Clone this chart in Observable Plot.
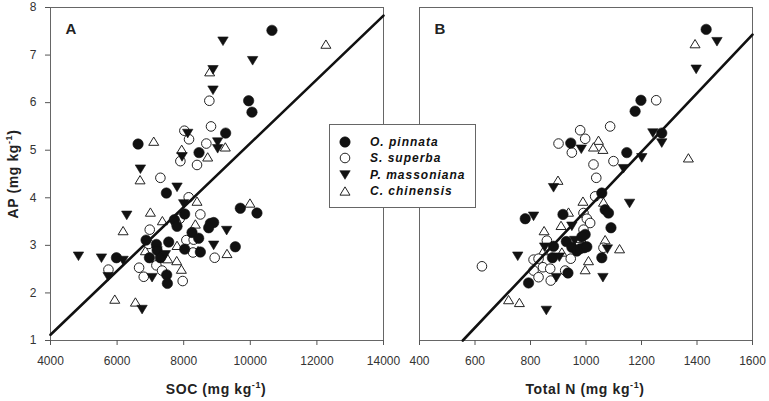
<!DOCTYPE html>
<html>
<head>
<meta charset="utf-8">
<script src="https://cdn.jsdelivr.net/npm/d3@7"></script>
<script src="https://cdn.jsdelivr.net/npm/@observablehq/plot@0.6"></script>
<style>
  body { margin: 0; background: #fff; }
  #wrap { position: relative; width: 769px; height: 401px; font-family: "Liberation Sans", Arial, sans-serif; overflow: hidden; }
  .panel { position: absolute; top: 0; }
  .atitle { position: absolute; font-weight: bold; font-size: 14px; letter-spacing: 0.6px; color: #222; white-space: nowrap; line-height: 1; }
  .atitle sup { font-size: 9px; vertical-align: 6px; line-height: 0; }
  #legend { position: absolute; left: 329px; top: 124px; width: 145px; height: 82px; border: 1px solid #666; background: #fff; }
  .lrow { position: absolute; left: 0; height: 16px; display: flex; align-items: center; }
  .lrow svg { margin-left: 7px; }
  .lrow span { margin-left: 17px; font-weight: bold; font-style: italic; font-size: 12px; letter-spacing: 1px; color: #111; }
</style>
</head>
<body>
<div id="wrap"></div>
<script>
// ---------- data ----------
const species = ["O. pinnata", "S. superba", "P. massoniana", "C. chinensis"];

const socTicks = [4000, 6000, 8000, 10000, 12000, 14000];
const tnTicks = [400, 600, 800, 1000, 1200, 1400, 1600];
const apTicks = [1, 2, 3, 4, 5, 6, 7, 8];

// Panel A: SOC (mg/kg) vs AP (mg/kg)
const socPinnata = [[10650,7.52],[9950,6.04],[10050,5.80],[9260,5.36],[6630,5.13],[8460,4.95],[7480,4.10],[9700,3.78],[10200,3.68],[8030,3.66],[7720,3.54],[7800,3.40],[8800,3.46],[8900,3.48],[8750,3.37],[8250,3.27],[8450,3.15],[6870,3.11],[7180,3.02],[7550,3.07],[7200,2.90],[8030,2.92],[8500,2.86],[9550,2.97],[6970,2.74],[7300,2.74],[5980,2.74],[7490,2.38],[7510,2.20]];
const socSuperba = [[8770,6.04],[8820,5.50],[8020,5.41],[8160,5.23],[8680,5.14],[7900,4.77],[8400,4.69],[7300,4.42],[8150,4.01],[8500,3.65],[7880,3.56],[7770,3.47],[6980,3.33],[8080,3.11],[8300,3.12],[6950,3.03],[8280,2.85],[8930,2.74],[5740,2.49],[6660,2.53],[6800,2.34],[7180,2.58],[7350,2.47],[7970,2.25]];
const socMassoniana = [[9180,7.29],[10070,6.88],[8880,6.69],[8880,6.26],[8120,5.35],[9020,5.17],[9020,5.03],[7950,4.86],[6700,4.60],[7800,4.22],[8000,3.87],[6290,3.63],[9290,3.31],[8900,3.00],[4840,2.77],[5530,2.73],[6180,2.68],[5730,2.34],[7050,2.32],[6750,1.65],[7200,2.88],[7450,2.80]];
const socChinensis = [[12270,7.23],[8780,6.65],[7100,5.19],[7940,5.02],[9250,5.07],[8720,4.86],[6690,4.38],[8400,3.93],[7000,3.70],[9990,3.89],[7360,3.52],[8350,3.45],[6180,3.31],[7800,3.00],[6850,2.89],[8430,2.89],[9300,2.83],[7520,2.72],[7790,2.68],[7930,2.50],[5930,1.87],[6550,1.81]];

// Panel B: Total N (mg/kg) vs AP (mg/kg)
const tnPinnata = [[1433,7.54],[1198,6.05],[1177,5.82],[1273,5.36],[945,5.15],[1147,4.95],[1057,4.10],[1069,3.75],[1081,3.68],[781,3.56],[917,3.65],[1090,3.37],[997,3.23],[985,3.18],[929,3.08],[883,2.98],[949,2.96],[967,2.88],[979,2.93],[993,2.95],[1003,2.97],[879,2.74],[1057,2.74],[935,2.42],[793,2.21]];
const tnSuperba = [[1253,6.05],[1087,5.50],[979,5.42],[997,5.24],[901,5.14],[949,4.95],[1099,4.77],[1027,4.70],[1037,4.42],[1033,4.03],[991,3.68],[1003,3.56],[1015,3.47],[991,3.33],[1063,2.95],[859,3.10],[811,2.70],[829,2.72],[845,2.54],[871,2.51],[811,2.47],[829,2.33],[873,2.26],[925,2.47],[945,2.72],[625,2.56]];
const tnMassoniana = [[1472,7.28],[1397,6.70],[1241,5.36],[1273,5.15],[983,5.02],[1201,4.84],[1135,4.61],[883,4.21],[1157,3.88],[811,3.61],[949,3.40],[959,3.10],[851,2.96],[1077,2.92],[904,2.75],[754,2.77],[893,2.32],[1061,2.32],[857,1.63]];
const tnChinensis = [[1393,7.24],[1369,4.84],[1045,5.21],[1027,5.07],[1061,5.02],[899,4.37],[989,3.93],[1063,3.91],[937,3.70],[910,3.42],[849,3.31],[982,3.15],[1069,3.12],[1121,2.93],[847,2.89],[913,2.86],[1009,2.68],[997,2.49],[721,1.86],[760,1.80]];

// Regression lines (end points)
const fitSoc = [[4000,1.12],[14000,7.83]];
const fitTn = [[556,1.0],[1600,7.43]];

// ---------- styles ----------
const triUp = {draw(ctx, size){ const r = Math.sqrt(size/Math.PI), h = 1.66*r; ctx.moveTo(0,-h/2); ctx.lineTo(r,h/2); ctx.lineTo(-r,h/2); ctx.closePath(); }};
const triDown = {draw(ctx, size){ const r = Math.sqrt(size/Math.PI), h = 1.66*r; ctx.moveTo(0,h/2); ctx.lineTo(r,-h/2); ctx.lineTo(-r,-h/2); ctx.closePath(); }};
const styleOf = {
  "O. pinnata":   {symbol: "circle", r: 5.2, fill: "#111", stroke: "#111", strokeWidth: 0.6},
  "S. superba":   {symbol: "circle", r: 4.8, fill: "#fff", stroke: "#222", strokeWidth: 1},
  "P. massoniana":{symbol: triDown, r: 5.2, fill: "#111", stroke: "#111", strokeWidth: 0.6},
  "C. chinensis": {symbol: triUp, r: 5, fill: "#fff", stroke: "#222", strokeWidth: 1}
};
const drawOrder = ["C. chinensis", "S. superba", "O. pinnata", "P. massoniana"];

function panel({sets, fit, xDomain, xTicks, label, width, marginLeft, showY}) {
  const marks = [
    Plot.frame({stroke: "#666", strokeWidth: 1}),
    Plot.axisX({ticks: xTicks, tickSize: 5, tickPadding: 11, tickFormat: d => String(d), fontSize: 12, stroke: "#555", fill: "#333"}),
  ];
  if (showY) marks.push(Plot.axisY({ticks: apTicks, tickSize: 5, tickPadding: 9, tickFormat: d => String(d), fontSize: 12, stroke: "#555", fill: "#333"}));
  else marks.push(Plot.axisY({ticks: [], label: null}));
  for (const sp of drawOrder) {
    const s = styleOf[sp];
    marks.push(Plot.dot(sets[sp], {x: d => d[0], y: d => d[1], symbol: s.symbol, r: s.r, fill: s.fill, stroke: s.stroke, strokeWidth: s.strokeWidth}));
  }
  marks.push(Plot.line(fit, {x: d => d[0], y: d => d[1], stroke: "#111", strokeWidth: 2.6}));
  marks.push(Plot.text([label], {text: d => d, frameAnchor: "top-left", dx: 15, dy: 22, lineAnchor: "middle", textAnchor: "start", fontSize: 15, fontWeight: "bold", fill: "#222"}));
  return Plot.plot({
    width, height: 401,
    marginLeft, marginRight: 17, marginTop: 7, marginBottom: 61,
    x: {domain: xDomain, label: null},
    y: {domain: [1, 8], label: null},
    style: {background: "transparent", overflow: "visible", fontFamily: "Liberation Sans, Arial, sans-serif"},
    marks
  });
}

const wrap = document.getElementById("wrap");

const pA = panel({
  sets: {"O. pinnata": socPinnata, "S. superba": socSuperba, "P. massoniana": socMassoniana, "C. chinensis": socChinensis},
  fit: fitSoc, xDomain: [4000, 14000], xTicks: socTicks, label: "A", width: 400, marginLeft: 50, showY: true
});
pA.classList.add("panel"); pA.style.left = "0px";
wrap.appendChild(pA);

const pB = panel({
  sets: {"O. pinnata": tnPinnata, "S. superba": tnSuperba, "P. massoniana": tnMassoniana, "C. chinensis": tnChinensis},
  fit: fitTn, xDomain: [400, 1600], xTicks: tnTicks, label: "B", width: 389, marginLeft: 39, showY: false
});
pB.classList.add("panel"); pB.style.left = "380px";
wrap.appendChild(pB);

// Axis titles
function title(html, css) {
  const d = document.createElement("div");
  d.className = "atitle";
  d.innerHTML = html;
  Object.assign(d.style, css);
  wrap.appendChild(d);
  return d;
}
title("SOC (mg kg<sup>-1</sup>)", {left: "216px", top: "382px", transform: "translateX(-50%)"});
title("Total N (mg kg<sup>-1</sup>)", {left: "585px", top: "382px", transform: "translateX(-50%)"});
title("AP (mg kg<sup>-1</sup>)", {left: "13px", top: "174px", transform: "translate(-50%,-50%) rotate(-90deg)"});

// Legend
const legend = document.createElement("div");
legend.id = "legend";
species.forEach((sp, i) => {
  const s = styleOf[sp];
  const row = document.createElement("div");
  row.className = "lrow";
  row.style.top = (8.5 + i * 16.6) + "px";
  const svg = d3.create("svg").attr("width", 16).attr("height", 16);
  svg.append("path")
    .attr("transform", "translate(8,8)")
    .attr("d", d3.symbol(s.symbol === "circle" ? d3.symbolCircle : s.symbol, Math.PI * s.r * s.r)())
    .attr("fill", s.fill).attr("stroke", s.stroke).attr("stroke-width", s.strokeWidth);
  row.appendChild(svg.node());
  const t = document.createElement("span");
  t.textContent = sp;
  row.appendChild(t);
  legend.appendChild(row);
});
wrap.appendChild(legend);
</script>
</body>
</html>
